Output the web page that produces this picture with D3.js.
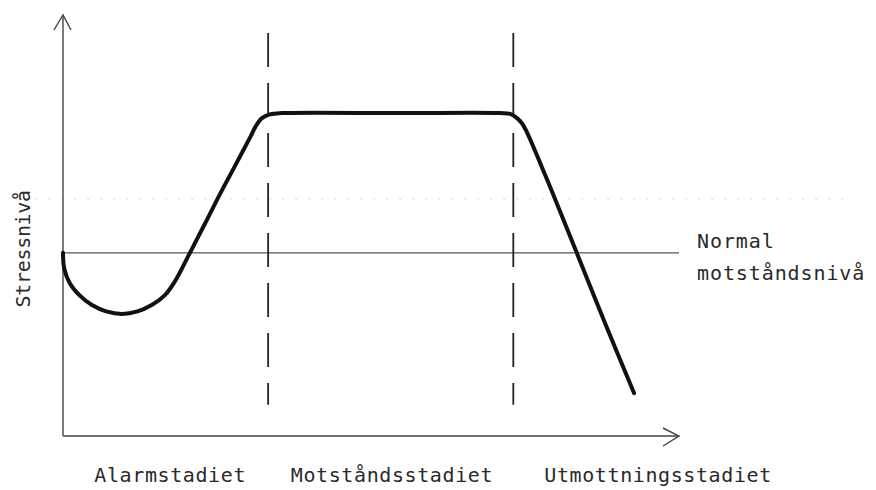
<!DOCTYPE html>
<html>
<head>
<meta charset="utf-8">
<script src="https://cdn.jsdelivr.net/npm/d3@7"></script>
<style>
  body { margin: 0; background: #fff; }
  text { font-family: "DejaVu Sans Mono", monospace; fill: #2a2a2a; }
</style>
</head>
<body>
<div id="chart"></div>
<script>
// Stress curve (time 0-100, stress level 0-100)
const curveTime = [0, 0.2, 1.1, 2.7, 4.7, 7.0, 9.6, 12.1, 14.4, 16.5, 18.2,
                   20.5, 23.1, 25.5, 27.9, 30.4, 31.3, 32.3, 33.6, 35.6, 54.7,
                   70.9, 72.6, 73.7, 74.5, 75.3, 79.4, 83.4, 88.0, 92.7];
const curveStress = [43.5, 39.8, 36.3, 33.4, 31.1, 29.6, 29.0, 29.6, 31.1, 33.4, 36.8,
                     43.2, 50.6, 57.5, 64.1, 71.0, 73.6, 75.5, 76.4, 76.7, 76.7,
                     76.7, 76.5, 75.5, 74.3, 72.2, 58.0, 43.5, 26.8, 10.2];

const normalLevel = 43.5;
const faintLevel = 56.3;
const stageBoundaries = [33.3, 73.1];
const boundaryExtent = [7.4, 95.7];

const stageLabels = ["Alarmstadiet", "Motståndsstadiet", "Utmottningsstadiet"];
const stageLabelPos = [17.4, 53.4, 96.6];
const normalLabel = ["Normal", "motståndsnivå"];
const yLabel = "Stressnivå";

const width = 876, height = 490;

const svg = d3.select("#chart")
    .append("svg")
    .attr("width", width)
    .attr("height", height);

const x = d3.scaleLinear().domain([0, 100]).range([63, 679]);
const y = d3.scaleLinear().domain([0, 100]).range([436, 15]);

// faint dotted guide
svg.append("line")
    .attr("x1", x(-4.5)).attr("x2", x(127))
    .attr("y1", y(faintLevel)).attr("y2", y(faintLevel))
    .attr("stroke", "#cfcfcf")
    .attr("stroke-width", 1)
    .attr("stroke-dasharray", "2,11");

// normal resistance level
svg.append("line")
    .attr("x1", x(0)).attr("x2", x(100))
    .attr("y1", y(normalLevel)).attr("y2", y(normalLevel))
    .attr("stroke", "#555")
    .attr("stroke-width", 1.4);

// stage boundaries
svg.selectAll(".boundary")
    .data(stageBoundaries)
    .enter()
    .append("line")
    .attr("class", "boundary")
    .attr("x1", d => x(d)).attr("x2", d => x(d))
    .attr("y1", y(boundaryExtent[1])).attr("y2", y(boundaryExtent[0]))
    .attr("stroke", "#222")
    .attr("stroke-width", 1.8)
    .attr("stroke-dasharray", "34,16");

// axes
const axisColor = "#444";
svg.append("line")
    .attr("x1", x(0)).attr("x2", x(0))
    .attr("y1", y(0)).attr("y2", y(100))
    .attr("stroke", axisColor).attr("stroke-width", 1.4);
svg.append("line")
    .attr("x1", x(0)).attr("x2", x(100))
    .attr("y1", y(0)).attr("y2", y(0))
    .attr("stroke", axisColor).attr("stroke-width", 1.6);

// open arrow heads
svg.append("path")
    .attr("d", `M${x(0) - 9},${y(100) + 15} L${x(0)},${y(100)} L${x(0) + 8},${y(100) + 15}`)
    .attr("fill", "none").attr("stroke", axisColor).attr("stroke-width", 1.4);
svg.append("path")
    .attr("d", `M${x(100) - 16},${y(0) - 8} L${x(100)},${y(0)} L${x(100) - 16},${y(0) + 10}`)
    .attr("fill", "none").attr("stroke", axisColor).attr("stroke-width", 1.4);

// stress curve
const points = curveTime.map((t, i) => [t, curveStress[i]]);
const line = d3.line()
    .x(d => x(d[0]))
    .y(d => y(d[1]))
    .curve(d3.curveCatmullRom.alpha(0.5));

svg.append("path")
    .datum(points)
    .attr("d", line)
    .attr("fill", "none")
    .attr("stroke", "#111")
    .attr("stroke-width", 4)
    .attr("stroke-linecap", "round")
    .attr("stroke-linejoin", "round");

// labels
const fontSize = 20;
svg.selectAll(".stage-label")
    .data(stageLabels)
    .enter()
    .append("text")
    .attr("class", "stage-label")
    .attr("x", (d, i) => x(stageLabelPos[i]))
    .attr("y", 482)
    .attr("text-anchor", "middle")
    .style("font-size", fontSize + "px")
    .style("letter-spacing", "0.6px")
    .text(d => d);

svg.selectAll(".normal-label")
    .data(normalLabel)
    .enter()
    .append("text")
    .attr("class", "normal-label")
    .attr("x", 697)
    .attr("y", (d, i) => 248 + i * 32)
    .style("font-size", fontSize + "px")
    .style("letter-spacing", "0.9px")
    .text(d => d);

svg.append("text")
    .attr("transform", `translate(30, ${y(normalLevel) - 4}) rotate(-90)`)
    .attr("text-anchor", "middle")
    .style("font-size", fontSize + "px")
    .style("letter-spacing", "-0.3px")
    .text(yLabel);
</script>
</body>
</html>
